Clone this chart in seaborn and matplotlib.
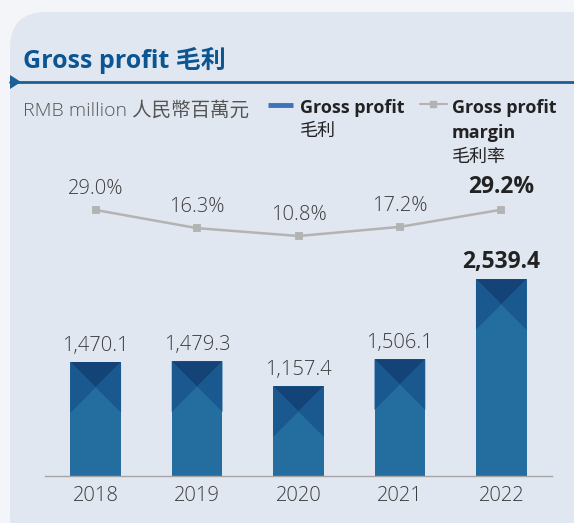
import matplotlib
matplotlib.use("Agg")
import matplotlib.pyplot as plt
import seaborn as sns
from matplotlib.patches import FancyBboxPatch, Polygon

# data
years = ["2018", "2019", "2020", "2021", "2022"]
gross_profit = [1470.1, 1479.3, 1157.4, 1506.1, 2539.4]
gp_labels = ["1,470.1", "1,479.3", "1,157.4", "1,506.1", "2,539.4"]
margin = [29.0, 16.3, 10.8, 17.2, 29.2]
margin_labels = ["29.0%", "16.3%", "10.8%", "17.2%", "29.2%"]

sns.set_style("white")
fonts = ["Open Sans", "Noto Sans CJK TC", "DejaVu Sans"]
plt.rcParams["font.family"] = fonts

W, H = 574, 523
fig = plt.figure(figsize=(W / 100, H / 100), dpi=100, facecolor="#f4f5f8")

# background panel, in pixel coordinates
bg = fig.add_axes([0, 0, 1, 1], zorder=0)
bg.set_xlim(0, W)
bg.set_ylim(H, 0)
bg.axis("off")
panel = FancyBboxPatch((10, 12), 600, 540, boxstyle="round,pad=0,rounding_size=36",
                       fc="#e1e7f1", ec="none")
bg.add_patch(panel)
bg.plot([10, W], [82, 82], color="#1c5f97", lw=2)
bg.add_patch(Polygon([(10, 75), (10, 89), (21, 82)], closed=True, fc="#1c5f97", ec="none"))

bg.text(23, 60, "Gross profit 毛利", fontsize=18, fontweight="bold", color="#0b5592",
        va="center", ha="left")
bg.text(23, 110, "RMB million 人民幣百萬元", fontsize=14, color="#555555",
        va="center", ha="left", fontweight="light")

# legend
bg.plot([268, 293], [105, 105], color="#3f72b8", lw=3.5, solid_capstyle="butt")
bg.text(300, 108, "Gross profit", fontsize=13, fontweight="bold", color="#222222", va="center")
bg.text(300, 131, "毛利", fontsize=13, color="#222222", va="center")
bg.plot([420, 447], [104, 104], color="#b3b3b3", lw=1.5)
bg.plot([433], [104], marker="s", ms=5, color="#b3b3b3")
bg.text(452, 108, "Gross profit", fontsize=13, fontweight="bold", color="#222222", va="center")
bg.text(452, 133, "margin", fontsize=13, fontweight="bold", color="#222222", va="center")
bg.text(452, 157, "毛利率", fontsize=13, color="#222222", va="center")

# main axes
ax_l, ax_b, ax_w, ax_h = 45, 47, 507, 316
ax = fig.add_axes([ax_l / W, ax_b / H, ax_w / W, ax_h / H], zorder=2)
ax.patch.set_alpha(0)

base_c, mid_c, dark_c = "#246e9f", "#19598f", "#144477"
sns.barplot(x=years, y=gross_profit, color=base_c, width=0.5, saturation=1,
            linewidth=0, ax=ax)

ymax = 4075
ax.set_ylim(0, ymax)
ax.set_xlim(-0.5, 4.5)

# X-shaped decoration on top of each bar
px_x = ax_w / 5.0
px_y = ax_h / ymax
for p in ax.patches[:len(years)]:
    x0, w, top = p.get_x(), p.get_width(), p.get_height()
    sq = w * px_x / px_y
    xc = x0 + w / 2
    ax.add_patch(Polygon([(x0, top), (x0 + w, top), (xc, top - sq / 2)], fc=dark_c, ec="none"))
    ax.add_patch(Polygon([(x0, top), (xc, top - sq / 2), (x0, top - sq)], fc=mid_c, ec="none"))
    ax.add_patch(Polygon([(x0 + w, top), (xc, top - sq / 2), (x0 + w, top - sq)], fc=mid_c, ec="none"))

for i, (v, lab) in enumerate(zip(gross_profit, gp_labels)):
    bold = i == len(years) - 1
    ax.annotate(lab, (i, v), xytext=(0, 12 if bold else 11.5), textcoords="offset points",
                ha="center", va="center", fontsize=16.5 if bold else 14.5,
                fontweight="bold" if bold else "light",
                color="#222222" if bold else "#3c3c3c")

ax.set_ylabel("")
ax.set_yticks([])
for s in ["top", "right", "left"]:
    ax.spines[s].set_visible(False)
ax.spines["bottom"].set_color("#a5a5a5")
ax.spines["bottom"].set_linewidth(1)
ax.set_xticks(range(len(years)))
ax.set_xticklabels(years, fontsize=14.5, color="#3c3c3c", fontweight="light")
ax.tick_params(axis="x", which="major", length=0, pad=7)
ax.set_xticks([i - 0.5 for i in range(len(years) + 1)], minor=True)
ax.tick_params(axis="x", which="minor", length=5, color="#a5a5a5", direction="out")

# margin line on twin axis
ax2 = ax.twinx()
ax2.patch.set_alpha(0)
sns.pointplot(x=years, y=margin, color="#b3b3b3", markers="s", markersize=5,
              linewidth=1.8, ax=ax2)
ax2.set_xlim(-0.5, 4.5)
ax2.set_ylim(-157.2, 64.0)
ax2.set_yticks([])
ax2.set_ylabel("")
for s in ax2.spines.values():
    s.set_visible(False)

for i, (v, lab) in enumerate(zip(margin, margin_labels)):
    bold = i == len(years) - 1
    ax2.annotate(lab, (i, v), xytext=(0, 16 if bold else 15), textcoords="offset points",
                 ha="center", va="center", fontsize=16.5 if bold else 14.5,
                 fontweight="bold" if bold else "light",
                 color="#222222" if bold else "#3c3c3c")

fig.savefig("out.png", dpi=100, facecolor=fig.get_facecolor())
